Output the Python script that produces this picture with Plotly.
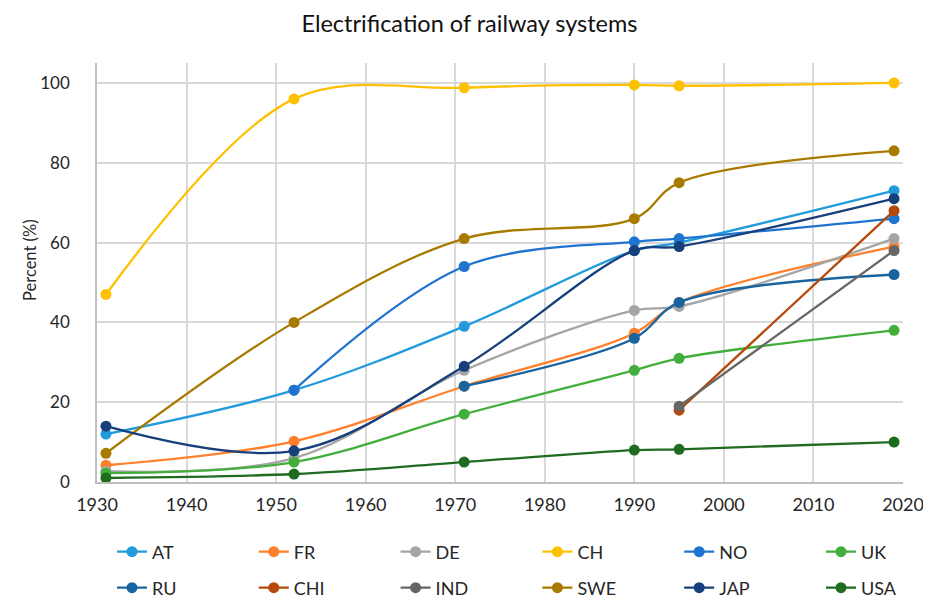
import plotly.graph_objects as go

# survey years (x) and share of electrified lines (%) per country
years = [1931, 1952, 1971, 1990, 1995, 2019]
years_late = [1995, 2019]
years_ru = [1971, 1990, 1995, 2019]

at = [12, 23, 39, 58, 60, 73]
fr = [4.2, 10.2, 24, 37.3, 45, 59]
de = [2.7, 6, 28, 43, 44, 61]
ch = [47, 96, 98.8, 99.5, 99.3, 100]
no = [None, 23, 54, 60.2, 61, 66]
uk = [2.2, 5, 17, 28, 31, 38]
ru = [24, 36, 45, 52]
chi = [18, 68]
ind = [19, 58]
swe = [7.2, 40, 61, 66, 75, 83]
jap = [14, 7.8, 29, 58, 59, 71]
usa = [1, 2, 5, 8, 8.2, 10]

series = [
    ("AT", years, at, "#219BDB"),
    ("FR", years, fr, "#FF7F2A"),
    ("DE", years, de, "#A5A5A5"),
    ("CH", years, ch, "#FFC000"),
    ("NO", years, no, "#1F74CF"),
    ("UK", years, uk, "#43AE3C"),
    ("RU", years_ru, ru, "#17649F"),
    ("CHI", years_late, chi, "#B5480A"),
    ("IND", years_late, ind, "#666666"),
    ("SWE", years, swe, "#A87A00"),
    ("JAP", years, jap, "#173F7C"),
    ("USA", years, usa, "#1F6B1F"),
]

# page body has an 8px margin, so the figure is drawn 8px smaller
W, H = 923, 590

fig = go.Figure()
legends = {}
for i, (name, xs, ys, col) in enumerate(series):
    key = "legend" if i == 0 else f"legend{i + 1}"
    fig.add_trace(go.Scatter(
        x=xs, y=ys, name=name, mode="lines+markers",
        line=dict(color=col, width=2.3, shape="spline", smoothing=1),
        marker=dict(color=col, size=11),
        legend=key, showlegend=True,
    ))
    # one legend per entry: 6 columns x 2 rows under the plot
    col_i, row_i = i % 6, i // 6
    legends[key] = dict(
        orientation="h", xref="container", yref="container",
        x=(104 + 141.8 * col_i) / W, xanchor="left",
        y=1 - (544 + 36 * row_i) / H, yanchor="middle",
        font=dict(family="Lato", size=18, color="#262626"),
        bgcolor="rgba(0,0,0,0)",
    )

fig.update_layout(
    width=W, height=H,
    showlegend=True,
    margin=dict(l=89, r=28, t=55, b=116),
    paper_bgcolor="white", plot_bgcolor="white",
    font=dict(family="Lato", size=18, color="#262626"),
    title=dict(text="Electrification of railway systems", x=0.5, xanchor="center",
               y=1 - 16 / H, yanchor="middle", font=dict(size=23.5, color="#111")),
    xaxis=dict(range=[1930, 2020], tickmode="linear", tick0=1930, dtick=10,
               showgrid=True, gridcolor="#D9D9D9", gridwidth=1.5,
               showline=True, linecolor="#BFBFBF", linewidth=1.5,
               zeroline=False, ticks="", ticklabelstandoff=6, automargin=False),
    yaxis=dict(range=[0, 105], tickmode="array", tickvals=[0, 20, 40, 60, 80, 100],
               showgrid=True, gridcolor="#D9D9D9", gridwidth=1.5,
               showline=True, linecolor="#BFBFBF", linewidth=1.5,
               zeroline=False, ticks="", ticklabelstandoff=22, automargin=False,
               tickfont=dict(size=17)),
    **legends,
)

fig.add_annotation(text="Percent (%)", xref="paper", yref="paper", x=0, y=0.53,
                   xanchor="center", yanchor="middle", xshift=-67, textangle=-90,
                   showarrow=False, font=dict(size=16.5, color="#262626"))

fig.write_html("out.html")
